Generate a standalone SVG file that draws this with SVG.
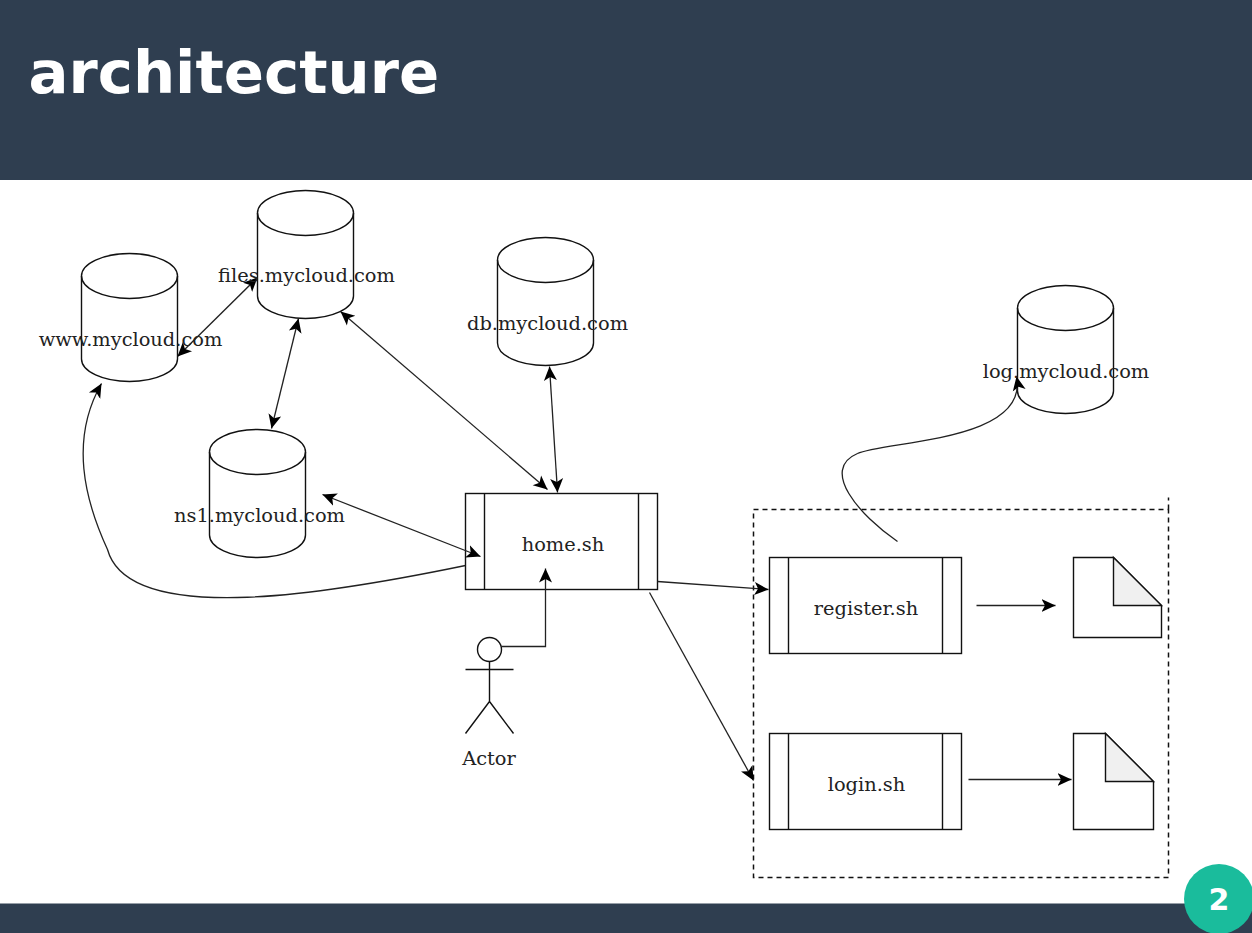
<svg xmlns="http://www.w3.org/2000/svg" width="1252" height="933" viewBox="0 0 1252 933">
<style>
.s{fill:none;stroke:#111;stroke-width:1.4}
.w{fill:#fff;stroke:#111;stroke-width:1.4}
.c{fill:none;stroke:#222;stroke-width:1.3}
.d{fill:none;stroke:#111;stroke-width:1.5;stroke-dasharray:5 4}
.t{font-family:"DejaVu Serif",serif;font-size:19.4px;fill:#222;text-anchor:middle}
</style>
<defs>
<marker id="a" markerUnits="userSpaceOnUse" markerWidth="18" markerHeight="18" refX="14" refY="9" orient="auto-start-reverse"><path d="M14 9L0 2.500L3.500 9L0 15.500Z" fill="#000"/></marker>
<g id="cyl"><path class="w" d="M0 22.500A48 22.500 0 0 1 96 22.500V105.500A48 22.500 0 0 1 0 105.500Z"/><path class="s" d="M0 22.500A48 22.500 0 0 0 96 22.500"/></g>
</defs>
<rect width="1252" height="933" fill="#fff"/>
<rect id="header" width="1252" height="180" fill="#2f3e50"/>
<rect id="footer" y="903.500" width="1252" height="29.500" fill="#2f3e50"/>
<text x="28.500" y="93" style="font-family:'DejaVu Sans',sans-serif;font-size:59.3px;font-weight:700;fill:#fff">architecture</text>
<g transform="translate(-.5 -.5)">
<g id="www"><use href="#cyl" x="82" y="254"/></g>
<g id="files"><use href="#cyl" x="258" y="191"/></g>
<g id="db"><use href="#cyl" x="498" y="238"/></g>
<g id="ns1"><use href="#cyl" x="210" y="430"/></g>
<g id="log"><use href="#cyl" x="1018" y="286"/></g>
<g id="home"><rect class="w" x="466" y="494" width="192" height="96"/><path class="s" d="M485 494V590M639 494V590"/></g>
<g id="register"><rect class="w" x="770" y="558" width="192" height="96"/><path class="s" d="M789 558V654M943 558V654"/></g>
<g id="login"><rect class="w" x="770" y="734" width="192" height="96"/><path class="s" d="M789 734V830M943 734V830"/></g>
<g id="doc1"><path class="w" d="M1074 558H1114L1162 606V638H1074Z"/><path d="M1114 558L1162 606H1114Z" fill="#f0f0f0" stroke="#111" stroke-width="1.4"/></g>
<g id="doc2"><path class="w" d="M1074 734H1106L1154 782V830H1074Z"/><path d="M1106 734L1154 782H1106Z" fill="#f0f0f0" stroke="#111" stroke-width="1.4"/></g>
<g id="actor"><circle class="w" cx="490" cy="650" r="12"/><path class="s" d="M490 662V702M466 670H514M466 734L490 702L514 734"/></g>
<path id="boundary" class="d" d="M754 510H1169V878H754ZM1169 510V498"/>
<g id="connectors">
<path class="c" d="M178 357L258 278" marker-start="url(#a)" marker-end="url(#a)"/>
<path class="c" d="M299 319L272 429" marker-start="url(#a)" marker-end="url(#a)"/>
<path class="c" d="M341 312L548 490" marker-start="url(#a)" marker-end="url(#a)"/>
<path class="c" d="M550 367L558 493" marker-start="url(#a)" marker-end="url(#a)"/>
<path class="c" d="M323 495L481 557" marker-start="url(#a)" marker-end="url(#a)"/>
<path class="c" d="M466 566C340 592 130 630 108 550C85 500 70 440 102 384" marker-end="url(#a)"/>
<path class="c" d="M898 542C860 516 820 470 858 454C885 441 1030 443 1017 377" marker-end="url(#a)"/>
<path class="c" d="M502 647H546V569" marker-end="url(#a)"/>
<path class="c" d="M658 582L769 590" marker-end="url(#a)"/>
<path class="c" d="M650 593L754 781" marker-end="url(#a)"/>
<path class="c" d="M977 606H1056" marker-end="url(#a)"/>
<path class="c" d="M969 780H1072" marker-end="url(#a)"/>
</g>
</g>
<text class="t" x="130.500" y="346">www.mycloud.com</text>
<text class="t" x="306.500" y="282">files.mycloud.com</text>
<text class="t" x="547.500" y="330">db.mycloud.com</text>
<text class="t" x="259.500" y="522">ns1.mycloud.com</text>
<text class="t" x="1066" y="378">log.mycloud.com</text>
<text class="t" x="563" y="551">home.sh</text>
<text class="t" x="866" y="615">register.sh</text>
<text class="t" x="866.500" y="791">login.sh</text>
<text class="t" x="489" y="765">Actor</text>
<g id="page"><circle cx="1219" cy="899" r="35" fill="#1abc9c"/><text x="1219" y="910" text-anchor="middle" style="font-family:'DejaVu Sans',sans-serif;font-size:30px;font-weight:700;fill:#fff">2</text></g>
</svg>
